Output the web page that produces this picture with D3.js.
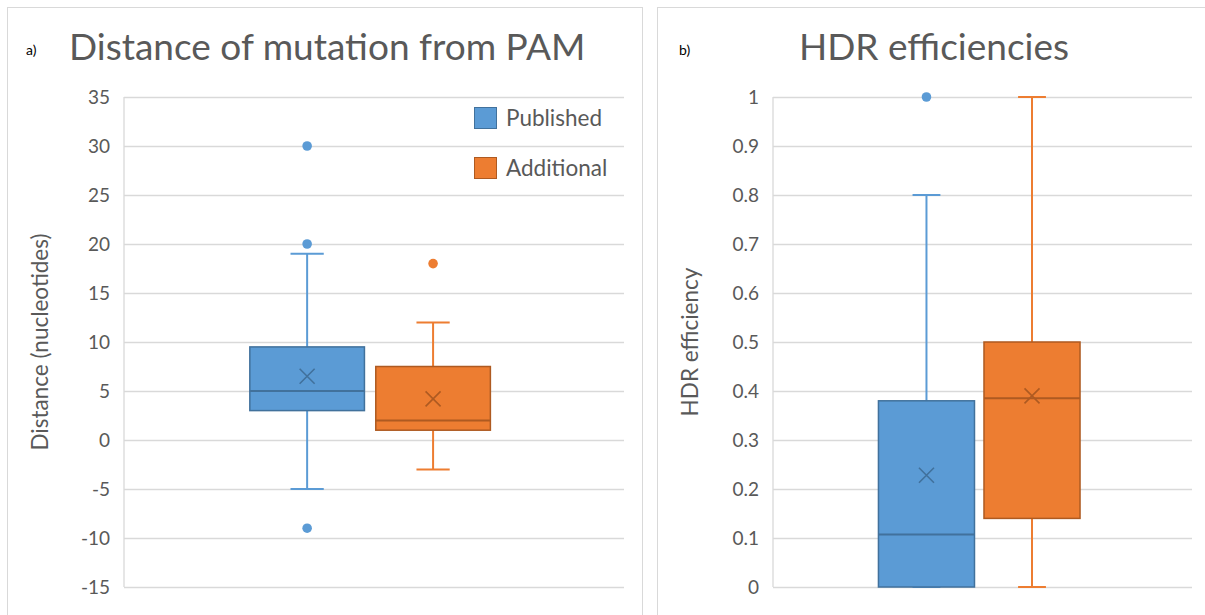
<!DOCTYPE html>
<html lang="en">
<head>
  <meta charset="UTF-8">
  <title>Distance of mutation from PAM / HDR efficiencies</title>
  <script src="https://d3js.org/d3.v7.min.js"></script>
  <style>
  body { margin: 0; background: #fff; }
  text { font-family: Lato, "Open Sans", sans-serif; fill: #595959; }
  </style>
</head>
<body>
<div id="chart"></div>
<script>
// series names (both panels)
const series = ["Published", "Additional"];
const fills = ["#5B9BD5", "#ED7D31"];
const strokes = ["#41719C", "#AE5A21"];

// panel a) distance of mutation from PAM
const distTicks = [-15, -10, -5, 0, 5, 10, 15, 20, 25, 30, 35];
const distLow = [-5, -3];
const distQ1 = [3, 1];
const distMedian = [5, 2];
const distQ3 = [9.5, 7.5];
const distHigh = [19, 12];
const distMean = [6.5, 4.2];
const distOutliers = [[30, 20, -9], [18]];

// panel b) HDR efficiencies
const hdrTicks = [0, 0.1, 0.2, 0.3, 0.4, 0.5, 0.6, 0.7, 0.8, 0.9, 1];
const hdrLow = [0, 0];
const hdrQ1 = [0, 0.14];
const hdrMedian = [0.107, 0.385];
const hdrQ3 = [0.38, 0.5];
const hdrHigh = [0.8, 1];
const hdrMean = [0.228, 0.39];
const hdrOutliers = [[1], []];

const W = 1205, H = 615;
const svg = d3.select("#chart").append("svg")
  .attr("width", W)
  .attr("height", H);

// chart frames
svg.append("rect").attr("x", 7.5).attr("y", 7.5).attr("width", 635).attr("height", 640)
  .attr("fill", "none").attr("stroke", "#d9d9d9");
svg.append("rect").attr("x", 657.5).attr("y", 7.5).attr("width", 580).attr("height", 640)
  .attr("fill", "none").attr("stroke", "#d9d9d9");

const drawPanel = (opt) => {
  const y = d3.scaleLinear()
    .domain(d3.extent(opt.ticks))
    .range([587, 97]);

  const x = d3.scaleBand()
    .domain(series)
    .range([opt.left, opt.right])
    .paddingInner(0.09)
    .paddingOuter(1.03)
    .align(0.485);

  const g = svg.append("g");

  // gridlines + y axis
  const yAxis = d3.axisLeft(y)
    .tickValues(opt.ticks)
    .tickSize(-(opt.right - opt.left))
    .tickPadding(14)
    .tickFormat(d => String(d));

  const ag = g.append("g")
    .attr("transform", `translate(${opt.left},0)`)
    .call(yAxis);
  ag.select(".domain").remove();
  ag.selectAll(".tick line").attr("stroke", "#d9d9d9").attr("stroke-width", 1.3);
  ag.selectAll(".tick text").attr("font-size", 19).attr("fill", "#595959")
    .style("font-family", "Lato, 'Open Sans', sans-serif");
  g.append("line")
    .attr("x1", opt.left).attr("x2", opt.left)
    .attr("y1", y.range()[1]).attr("y2", y.range()[0])
    .attr("stroke", "#d9d9d9").attr("stroke-width", 1.3);

  const bw = x.bandwidth();
  const cap = bw * 0.29;

  series.forEach((s, i) => {
    const cx = x(s) + bw / 2;
    const sg = g.append("g");

    // whiskers
    sg.append("line").attr("x1", cx).attr("x2", cx)
      .attr("y1", y(opt.high[i])).attr("y2", y(opt.q3[i]))
      .attr("stroke", fills[i]).attr("stroke-width", 2);
    sg.append("line").attr("x1", cx).attr("x2", cx)
      .attr("y1", y(opt.q1[i])).attr("y2", y(opt.low[i]))
      .attr("stroke", fills[i]).attr("stroke-width", 2);
    [opt.high[i], opt.low[i]].forEach(v => {
      sg.append("line").attr("x1", cx - cap / 2).attr("x2", cx + cap / 2)
        .attr("y1", y(v)).attr("y2", y(v))
        .attr("stroke", fills[i]).attr("stroke-width", 2);
    });

    // box
    sg.append("rect")
      .attr("x", x(s))
      .attr("y", y(opt.q3[i]))
      .attr("width", bw)
      .attr("height", y(opt.q1[i]) - y(opt.q3[i]))
      .attr("fill", fills[i])
      .attr("stroke", strokes[i])
      .attr("stroke-width", 1.5);

    // median
    sg.append("line").attr("x1", x(s)).attr("x2", x(s) + bw)
      .attr("y1", y(opt.median[i])).attr("y2", y(opt.median[i]))
      .attr("stroke", strokes[i]).attr("stroke-width", 2);

    // mean marker (x)
    const my = y(opt.mean[i]), m = 7.5;
    sg.append("path")
      .attr("d", `M${cx - m},${my - m}L${cx + m},${my + m}M${cx - m},${my + m}L${cx + m},${my - m}`)
      .attr("stroke", strokes[i]).attr("stroke-width", 1.6).attr("fill", "none");

    // outliers
    sg.selectAll("circle.out")
      .data(opt.outliers[i])
      .enter().append("circle")
      .attr("class", "out")
      .attr("cx", cx)
      .attr("cy", d => y(d))
      .attr("r", 4.8)
      .attr("fill", fills[i]);
  });

  // axis title
  svg.append("text")
    .attr("transform", `translate(${opt.titleX},342) rotate(-90)`)
    .attr("text-anchor", "middle")
    .attr("font-size", 22.5)
    .text(opt.yTitle);

  // panel letter + title
  svg.append("text")
    .attr("x", opt.letterX).attr("y", 55)
    .attr("font-size", 14)
    .style("fill", "#000")
    .text(opt.letter);
  svg.append("text")
    .attr("x", opt.chartTitleX).attr("y", 60)
    .attr("text-anchor", opt.titleAnchor)
    .attr("font-size", 37)
    .text(opt.title);
};

drawPanel({
  ticks: distTicks,
  left: 124, right: 624,
  low: distLow, q1: distQ1, median: distMedian, q3: distQ3, high: distHigh,
  mean: distMean, outliers: distOutliers,
  yTitle: "Distance (nucleotides)", titleX: 48,
  letter: "a)", letterX: 26,
  title: "Distance of mutation from PAM", chartTitleX: 69, titleAnchor: "start"
});

drawPanel({
  ticks: hdrTicks,
  left: 773, right: 1192,
  low: hdrLow, q1: hdrQ1, median: hdrMedian, q3: hdrQ3, high: hdrHigh,
  mean: hdrMean, outliers: hdrOutliers,
  yTitle: "HDR efficiency", titleX: 698,
  letter: "b)", letterX: 679,
  title: "HDR efficiencies", chartTitleX: 934, titleAnchor: "middle"
});

// legend (panel a)
const legend = svg.append("g");
series.forEach((s, i) => {
  legend.append("rect")
    .attr("x", 474.5).attr("y", 107.5 + i * 50)
    .attr("width", 22).attr("height", 21)
    .attr("fill", fills[i]).attr("stroke", strokes[i]).attr("stroke-width", 1);
  legend.append("text")
    .attr("x", 506).attr("y", 126 + i * 50)
    .attr("font-size", 22.5)
    .text(s);
});
</script>
</body>
</html>
